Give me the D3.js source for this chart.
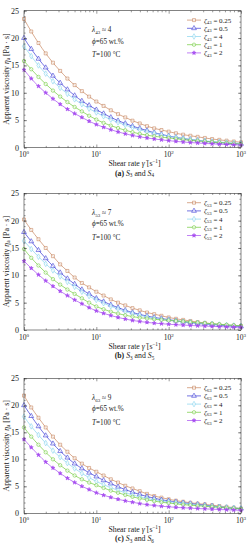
<!DOCTYPE html>
<html><head><meta charset="utf-8">
<script src="https://cdn.jsdelivr.net/npm/d3@7/dist/d3.min.js"></script>
<style>
body{margin:0;background:#fff}
svg{display:block}
text{font-family:"Liberation Serif","DejaVu Serif",serif;fill:#222}
</style>
</head><body><svg id="c" width="250" height="550"></svg>
<script>
const shearRates = [1,1.259,1.585,1.995,2.512,3.162,3.981,5.012,6.31,7.943,10,12.59,15.85,19.95,25.12,31.62,39.81,50.12,63.1,79.43,100,125.9,158.5,199.5,251.2,316.2,398.1,501.2,631,794.3,1000];
const zetaLabels = ["0.25","0.5","4","1","2"];
// Panel (a): S3 and S4
const a_z025 = [23.5,21.2,19.1,17.2,15.5,14.0,12.6,11.4,10.3,9.3,8.4,7.6,6.8,6.1,5.5,4.9,4.4,3.9,3.5,3.2,2.9,2.6,2.35,2.15,1.95,1.75,1.55,1.4,1.25,1.1,0.95];
const a_z05  = [20.0,18.0,16.2,14.6,13.1,11.8,10.6,9.5,8.5,7.7,6.9,6.2,5.5,4.9,4.4,3.9,3.5,3.1,2.7,2.4,2.1,1.85,1.65,1.45,1.3,1.15,1.0,0.9,0.8,0.72,0.65];
const a_z4   = [18.5,16.7,15.0,13.5,12.1,10.9,9.8,8.8,7.9,7.1,6.4,5.7,5.1,4.6,4.1,3.65,3.25,2.9,2.6,2.3,2.05,1.85,1.65,1.5,1.35,1.2,1.1,1.0,0.9,0.82,0.75];
const a_z1   = [15.8,14.3,12.9,11.6,10.4,9.3,8.3,7.4,6.6,5.8,5.1,4.5,4.0,3.55,3.15,2.8,2.5,2.25,2.05,1.9,1.75,1.6,1.45,1.3,1.2,1.1,1.0,0.9,0.8,0.7,0.6];
const a_z2   = [14.2,12.6,11.2,10.0,8.9,7.9,7.0,6.2,5.5,4.8,4.2,3.7,3.25,2.85,2.5,2.2,1.95,1.75,1.55,1.4,1.25,1.12,1.0,0.9,0.82,0.74,0.67,0.6,0.55,0.5,0.45];
// Panel (b): S3 and S5
const b_z025 = [20.2,18.3,16.6,15.0,13.5,12.0,10.8,9.6,8.6,7.8,7.0,6.3,5.6,5.0,4.5,4.0,3.6,3.2,2.9,2.6,2.3,2.05,1.85,1.65,1.45,1.3,1.15,1.0,0.9,0.82,0.75];
const b_z05  = [17.9,16.2,14.6,13.1,11.7,10.5,9.4,8.4,7.4,6.6,5.8,5.2,4.6,4.1,3.6,3.2,2.85,2.55,2.3,2.1,1.9,1.7,1.5,1.35,1.2,1.1,1.0,0.9,0.8,0.72,0.65];
const b_z4   = [16.3,14.8,13.4,12.1,10.9,9.8,8.8,7.9,7.0,6.2,5.5,4.9,4.35,3.85,3.4,3.0,2.7,2.4,2.15,1.95,1.8,1.65,1.5,1.4,1.3,1.2,1.1,1.0,0.9,0.82,0.75];
const b_z1   = [14.8,13.2,11.8,10.5,9.3,8.3,7.4,6.6,5.8,5.0,4.3,3.8,3.35,3.0,2.7,2.45,2.25,2.1,1.95,1.85,1.75,1.65,1.55,1.45,1.35,1.25,1.15,1.05,0.95,0.85,0.75];
const b_z2   = [12.6,11.3,10.1,9.0,8.0,7.1,6.3,5.5,4.8,4.1,3.5,3.05,2.65,2.3,2.0,1.75,1.55,1.4,1.25,1.15,1.05,0.97,0.9,0.83,0.77,0.71,0.66,0.61,0.57,0.53,0.5];
// Panel (c): S3 and S6
const c_z025 = [21.8,19.6,17.7,15.9,14.2,12.7,11.4,10.2,9.2,8.4,7.7,7.0,6.3,5.7,5.1,4.6,4.1,3.6,3.2,2.9,2.6,2.35,2.15,1.95,1.8,1.65,1.5,1.35,1.2,1.05,0.9];
const c_z05  = [20.0,18.0,16.1,14.4,12.9,11.5,10.3,9.2,8.3,7.5,6.8,6.1,5.5,4.9,4.4,3.9,3.5,3.1,2.8,2.5,2.3,2.1,1.95,1.8,1.65,1.5,1.35,1.2,1.05,0.95,0.85];
const c_z4   = [17.9,16.1,14.5,13.0,11.6,10.4,9.3,8.3,7.4,6.6,5.9,5.3,4.75,4.25,3.8,3.4,3.05,2.75,2.5,2.3,2.15,2.0,1.85,1.7,1.55,1.4,1.3,1.2,1.1,1.0,0.9];
const c_z1   = [15.9,14.2,12.7,11.3,10.0,8.9,7.9,7.0,6.3,5.7,5.2,4.7,4.2,3.8,3.4,3.05,2.75,2.5,2.25,2.05,1.9,1.75,1.6,1.5,1.4,1.3,1.2,1.1,1.0,0.9,0.8];
const c_z2   = [13.7,12.2,10.8,9.5,8.4,7.4,6.5,5.7,5.0,4.4,3.8,3.35,2.95,2.6,2.3,2.05,1.8,1.6,1.45,1.3,1.2,1.1,1.02,0.95,0.88,0.82,0.76,0.7,0.65,0.6,0.55];

const yTicks = [0,5,10,15,20,25];
const xTickExps = [0,1,2,3];
const lambdaVals = ["4","7","9"];
const pairSubs = ["43","53","63"];
const captionLetters = ["a","b","c"];
const captionSecond = ["4","5","6"];

const colors = ["#c88660","#3a3ad6","#86d4ee","#72cc3e","#a64cf0"];
const symbols = [d3.symbolSquare, d3.symbolTriangle, d3.symbolDiamond, d3.symbolCircle, d3.symbolStar];
const symSizes = [9, 10, 9, 9, 5];
const symFill = ["#fff","#fff","#fff","#fff",null];

const panels = [
  {top:10.7, bottom:147.5, data:[a_z025,a_z05,a_z4,a_z1,a_z2]},
  {top:193.3, bottom:330, data:[b_z025,b_z05,b_z4,b_z1,b_z2]},
  {top:378.3, bottom:513.3, data:[c_z025,c_z05,c_z4,c_z1,c_z2]}
];

const svg = d3.select("#c");
svg.append("rect").attr("width",250).attr("height",550).attr("fill","#fff");
const L = 24, R = 241;

panels.forEach((p, pi) => {
  const g = svg.append("g");
  const x = d3.scaleLog().domain([1,1000]).range([L,R]);
  const y = d3.scaleLinear().domain([0,25]).range([p.bottom,p.top]);

  p.data.forEach((vals, si) => {
    const pts = shearRates.map((s,i)=>[s, vals[i]]);
    g.append("path").datum(pts)
      .attr("d", d3.line().x(d=>x(d[0])).y(d=>y(d[1])).curve(d3.curveMonotoneX))
      .attr("fill","none").attr("stroke",colors[si]).attr("stroke-width",0.7);
    g.selectAll(null).data(pts).enter().append("path")
      .attr("d", d3.symbol().type(symbols[si]).size(symSizes[si]))
      .attr("transform", d=>`translate(${x(d[0])},${y(d[1])})`)
      .attr("fill", symFill[si] || colors[si])
      .attr("fill-opacity", symFill[si] ? 0.6 : 1)
      .attr("stroke", colors[si]).attr("stroke-width",0.6);
  });

  g.append("rect").attr("x",L).attr("y",p.top).attr("width",R-L).attr("height",p.bottom-p.top)
    .attr("fill","none").attr("stroke","#333").attr("stroke-width",0.6);

  const yMinor = d3.range(0,26,1);
  const axL = d3.axisLeft(y).tickValues(yTicks).tickSize(-3).tickPadding(5).tickFormat(d3.format("d"));
  const gL = g.append("g").attr("transform",`translate(${L},0)`).call(axL);
  g.append("g").attr("transform",`translate(${L},0)`).call(d3.axisLeft(y).tickValues(yMinor).tickSize(-1.6).tickFormat(""));
  g.append("g").attr("transform",`translate(${R},0)`).call(d3.axisRight(y).tickValues(yTicks).tickSize(-3).tickFormat(""));
  g.append("g").attr("transform",`translate(${R},0)`).call(d3.axisRight(y).tickValues(yMinor).tickSize(-1.6).tickFormat(""));

  const xMajor = xTickExps.map(e=>Math.pow(10,e));
  const xMinor = [];
  [1,10,100].forEach(b=>{[2,3,4,5,6,7,8,9].forEach(m=>xMinor.push(b*m));});
  g.append("g").attr("transform",`translate(0,${p.bottom})`)
    .call(d3.axisBottom(x).tickValues(xMajor).tickSize(-3).tickFormat(""));
  g.append("g").attr("transform",`translate(0,${p.bottom})`).call(d3.axisBottom(x).tickValues(xMinor).tickSize(-1.6).tickFormat(""));
  g.append("g").attr("transform",`translate(0,${p.top})`).call(d3.axisTop(x).tickValues(xMajor).tickSize(-3).tickFormat(""));
  g.append("g").attr("transform",`translate(0,${p.top})`).call(d3.axisTop(x).tickValues(xMinor).tickSize(-1.6).tickFormat(""));
  g.selectAll(".domain").remove();
  g.selectAll(".tick line").attr("stroke","#333").attr("stroke-width",0.5);
  gL.selectAll("text").attr("font-size",8).attr("font-family","Liberation Serif, serif").attr("fill","#222");

  xTickExps.forEach(e=>{
    const t = g.append("text").attr("x",x(Math.pow(10,e))).attr("y",p.bottom+9.5)
      .attr("text-anchor","middle").attr("font-size",7.5);
    t.append("tspan").text("10");
    t.append("tspan").attr("dy",-3).attr("font-size",5).text(e);
  });

  const xl = g.append("text").attr("x",(L+R)/2+2).attr("y",p.bottom+18.5).attr("text-anchor","middle").attr("font-size",7.8);
  xl.append("tspan").text("Shear rate ");
  xl.append("tspan").attr("font-style","italic").text("γ\u0307");
  xl.append("tspan").text(" [s");
  xl.append("tspan").attr("dy",-3).attr("font-size",5.2).text("−1");
  xl.append("tspan").attr("dy",3).text("]");

  const cap = g.append("text").attr("x",(L+R)/2+2).attr("y",p.bottom+28).attr("text-anchor","middle").attr("font-size",7.8);
  cap.append("tspan").attr("font-weight","bold").text(`(${captionLetters[pi]})`);
  cap.append("tspan").text(" ");
  cap.append("tspan").attr("font-style","italic").text("S");
  cap.append("tspan").attr("dy",1.8).attr("font-size",5.2).text("3");
  cap.append("tspan").attr("dy",-1.8).text(" and ");
  cap.append("tspan").attr("font-style","italic").text("S");
  cap.append("tspan").attr("dy",1.8).attr("font-size",5.2).text(captionSecond[pi]);

  const cy = (p.top+p.bottom)/2;
  const yl = g.append("text").attr("transform",`translate(8.5,${cy}) rotate(-90)`).attr("text-anchor","middle").attr("font-size",7.8);
  yl.append("tspan").text("Apparent viscosity  ");
  yl.append("tspan").attr("font-style","italic").text("η");
  yl.append("tspan").attr("dy",1.8).attr("font-size",5.2).text("a");
  yl.append("tspan").attr("dy",-1.8).text(" [Pa · s]");

  const ax = 92;
  const t1 = g.append("text").attr("x",ax).attr("y",p.top+21.5).attr("font-size",7.2);
  t1.append("tspan").attr("font-style","italic").text("λ");
  t1.append("tspan").attr("dy",1.8).attr("font-size",5).text(pairSubs[pi]);
  t1.append("tspan").attr("dy",-1.8).text(" ≈ " + lambdaVals[pi]);
  const t2 = g.append("text").attr("x",ax).attr("y",p.top+33).attr("font-size",7.2);
  t2.append("tspan").attr("font-style","italic").text("ϕ");
  t2.append("tspan").text("=65 wt.%");
  const t3 = g.append("text").attr("x",ax).attr("y",p.top+46.5).attr("font-size",7.2);
  t3.append("tspan").attr("font-style","italic").text("T");
  t3.append("tspan").text("=100 °C");

  zetaLabels.forEach((lab, si)=>{
    const ly = p.top + 9.4 + si*8.2;
    g.append("line").attr("x1",187).attr("x2",201).attr("y1",ly).attr("y2",ly)
      .attr("stroke",colors[si]).attr("stroke-width",0.7);
    g.append("path").attr("d", d3.symbol().type(symbols[si]).size(symSizes[si]))
      .attr("transform",`translate(194,${ly})`)
      .attr("fill", symFill[si] || colors[si]).attr("fill-opacity", symFill[si]?0.6:1)
      .attr("stroke",colors[si]).attr("stroke-width",0.6);
    const lt = g.append("text").attr("x",204).attr("y",ly+2.5).attr("font-size",7);
    lt.append("tspan").attr("font-style","italic").text("ζ");
    lt.append("tspan").attr("dy",1.6).attr("font-size",4.8).text(pairSubs[pi]);
    lt.append("tspan").attr("dy",-1.6).text(" = " + lab);
  });
});
</script>
</body></html>
